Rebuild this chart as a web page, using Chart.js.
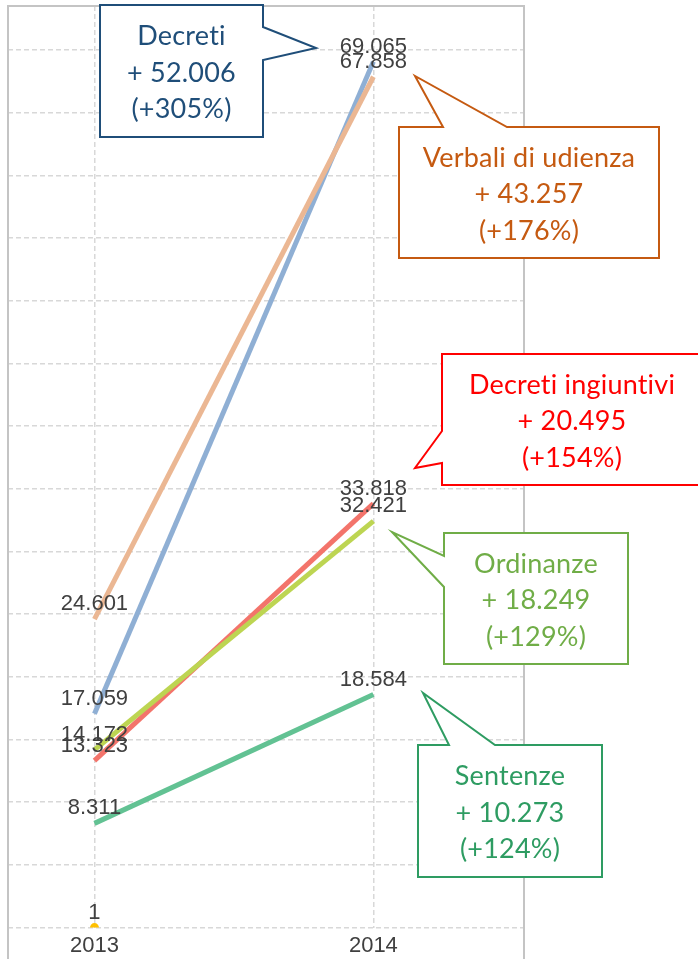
<!DOCTYPE html>
<html lang="it">
<head>
<meta charset="UTF-8">
<title>Provvedimenti 2013 - 2014</title>
<script src="https://cdn.jsdelivr.net/npm/chart.js"></script>
<style>
  html, body { margin: 0; padding: 0; background: #fff; }
  .wrap { width: 698px; height: 959px; position: relative; }
</style>
</head>
<body>
<div class="wrap"><canvas id="chart"></canvas></div>
<script>
// data
const years = [2013, 2014];
const seriesNames = ['Decreti', 'Verbali di udienza', 'Decreti ingiuntivi', 'Ordinanze', 'Sentenze', 'Altro'];
const decreti = [17059, 69065];
const verbali = [24601, 67858];
const ingiuntivi = [13323, 33818];
const ordinanze = [14172, 32421];
const sentenze = [8311, 18584];
const altro = [1, null];
const yStep = 5000;

const seriesValues = [decreti, verbali, ingiuntivi, ordinanze, sentenze, altro];
const lineColors = ['#8fafd4', '#ebb793', '#f3746b', '#bdd552', '#62c293', '#ffc000'];
const drawOrder = [5, 4, 3, 2, 1, 0];

// italian thousands separator
function fmt(n) {
  return String(n).replace(/\B(?=(\d{3})+(?!\d))/g, '.');
}

// callout boxes (pixel layout)
const callouts = [
  {series: 0, color: '#1f4e79', box: [100, 5, 263, 137], side: 'right', a: 27, b: 60, tip: [316, 48]},
  {series: 1, color: '#c55a11', box: [399, 127, 659, 258], side: 'top', a: 443, b: 507, tip: [415, 76]},
  {series: 2, color: '#ff0000', box: [442, 354, 702, 485], side: 'left', a: 463, b: 431, tip: [415, 468]},
  {series: 3, color: '#70ad47', box: [444, 533, 628, 664], side: 'left', a: 587, b: 556, tip: [392, 532]},
  {series: 4, color: '#2e9c62', box: [418, 745, 602, 877], side: 'top', a: 449, b: 495, tip: [423, 693]}
];

const labelFont = '22px "Liberation Sans", Arial, sans-serif';
const calloutFont = '27px Lato, "Open Sans", sans-serif';

const framePlugin = {
  id: 'frame',
  afterDraw(chart) {
    const {ctx, chartArea: ca} = chart;
    ctx.save();
    ctx.strokeStyle = '#c4c4c4';
    ctx.lineWidth = 2;
    ctx.beginPath();
    ctx.moveTo(ca.left, chart.height);
    ctx.lineTo(ca.left, ca.top);
    ctx.lineTo(ca.right, ca.top);
    ctx.lineTo(ca.right, chart.height);
    ctx.stroke();
    ctx.restore();
  }
};

const valueLabels = {
  id: 'valueLabels',
  afterDatasetsDraw(chart) {
    const ctx = chart.ctx;
    ctx.save();
    ctx.font = labelFont;
    ctx.fillStyle = '#404040';
    ctx.textAlign = 'center';
    ctx.textBaseline = 'middle';
    chart.data.datasets.forEach((ds, i) => {
      const meta = chart.getDatasetMeta(i);
      meta.data.forEach((pt, j) => {
        const v = ds.data[j];
        if (v === null || v === undefined) return;
        ctx.fillText(fmt(v), pt.x, pt.y - 15);
      });
    });
    ctx.restore();
  }
};

const calloutPlugin = {
  id: 'callouts',
  afterDraw(chart) {
    const ctx = chart.ctx;
    callouts.forEach(c => {
      const [x1, y1, x2, y2] = c.box;
      const vals = seriesValues[c.series];
      const diff = vals[1] - vals[0];
      const pct = Math.round(diff / vals[0] * 100);
      const lines = [seriesNames[c.series], '+ ' + fmt(diff), '(+' + pct + '%)'];

      ctx.save();
      ctx.beginPath();
      ctx.moveTo(x1, y1);
      if (c.side === 'top') {
        ctx.lineTo(c.a, y1); ctx.lineTo(c.tip[0], c.tip[1]); ctx.lineTo(c.b, y1);
      }
      ctx.lineTo(x2, y1);
      if (c.side === 'right') {
        ctx.lineTo(x2, c.a); ctx.lineTo(c.tip[0], c.tip[1]); ctx.lineTo(x2, c.b);
      }
      ctx.lineTo(x2, y2);
      ctx.lineTo(x1, y2);
      if (c.side === 'left') {
        ctx.lineTo(x1, Math.max(c.a, c.b)); ctx.lineTo(c.tip[0], c.tip[1]); ctx.lineTo(x1, Math.min(c.a, c.b));
      }
      ctx.closePath();
      ctx.fillStyle = '#ffffff';
      ctx.fill();
      ctx.strokeStyle = c.color;
      ctx.lineWidth = 2;
      ctx.lineJoin = 'miter';
      ctx.stroke();

      ctx.font = calloutFont;
      ctx.letterSpacing = '0.2px'; // avoids the "ti" ligature
      ctx.fillStyle = c.color;
      ctx.textAlign = 'center';
      ctx.textBaseline = 'middle';
      const cx = (x1 + x2) / 2;
      const cy = (y1 + y2) / 2 + 2;
      lines.forEach((t, k) => ctx.fillText(t, cx, cy + (k - 1) * 36.5));
      ctx.restore();
    });
  }
};

const datasets = seriesNames.map((name, i) => ({
  label: name,
  data: seriesValues[i],
  borderColor: lineColors[i],
  backgroundColor: lineColors[i],
  borderWidth: 5,
  pointRadius: i === 5 ? 4.5 : 0,
  pointBorderWidth: 0,
  pointBackgroundColor: lineColors[i],
  order: drawOrder[i],
  clip: 0
}));

new Chart(document.getElementById('chart'), {
  type: 'line',
  data: {labels: years, datasets: datasets},
  options: {
    responsive: true,
    maintainAspectRatio: false,
    animation: false,
    layout: {padding: {left: 8, right: 174, top: 6, bottom: -5}},
    plugins: {legend: {display: false}, tooltip: {enabled: false}},
    scales: {
      x: {
        type: 'linear',
        min: 2012.69,
        max: 2014.54,
        afterBuildTicks: axis => { axis.ticks = years.map(v => ({value: v})); },
        ticks: {
          callback: v => String(v),
          font: {family: '"Liberation Sans", Arial, sans-serif', size: 22},
          color: '#404040',
          padding: 5,
          maxRotation: 0,
          autoSkip: false
        },
        grid: {color: '#d8d8d8', lineWidth: 1.5, drawTicks: false},
        border: {display: false, dash: [5, 3]}
      },
      y: {
        min: 0,
        max: 73500,
        ticks: {display: false, autoSkip: false},
        afterBuildTicks: axis => {
          const t = [];
          for (let v = axis.min; v <= axis.max; v += yStep) t.push({value: v});
          axis.ticks = t;
        },
        grid: {color: '#d8d8d8', lineWidth: 1.5, drawTicks: false},
        border: {display: false, dash: [5, 3]}
      }
    }
  },
  plugins: [framePlugin, valueLabels, calloutPlugin]
});
</script>
</body>
</html>
